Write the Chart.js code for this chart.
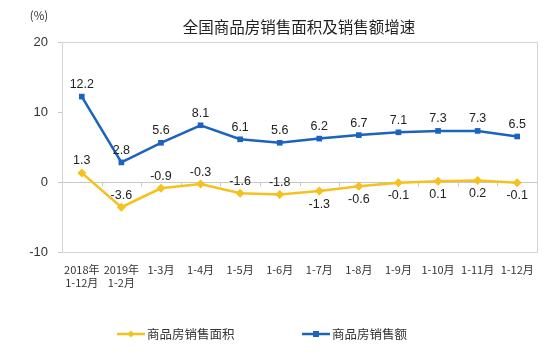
<!DOCTYPE html>
<html><head><meta charset="utf-8">
<script src="https://cdn.jsdelivr.net/npm/chart.js@4/dist/chart.umd.min.js"></script>
<style>html,body{margin:0;padding:0;background:#fff;}#wrap{width:550px;height:355px;}</style>
</head><body><div id="wrap"><canvas id="c" width="550" height="355"></canvas></div>
<script>
const categories = [['2018年','1-12月'],['2019年','1-2月'],'1-3月','1-4月','1-5月','1-6月','1-7月','1-8月','1-9月','1-10月','1-11月','1-12月'];
const areaGrowth = [1.3,-3.6,-0.9,-0.3,-1.6,-1.8,-1.3,-0.6,-0.1,0.1,0.2,-0.1];
const salesGrowth = [12.2,2.8,5.6,8.1,6.1,5.6,6.2,6.7,7.1,7.3,7.3,6.5];
const yTicks = [-10,0,10,20];
const seriesNames = ['商品房销售面积','商品房销售额'];
const titleText = '全国商品房销售面积及销售额增速';
const unitText = '(%)';

const YELLOW = '#F6C11C', BLUE = '#1C63BE';
const areaLabelAbove = [true,true,true,true,true,true,false,false,false,false,false,false];

const deco = {
  id:'deco',
  beforeDatasetsDraw(chart){
    const {ctx, chartArea:a, scales:{x,y}} = chart;
    ctx.save();
    ctx.strokeStyle = '#d4d4d4'; ctx.lineWidth = 1;
    ctx.strokeRect(Math.round(a.left)+0.5, Math.round(a.top)+0.5, Math.round(a.right-a.left), Math.round(a.bottom-a.top));
    const y0 = Math.round(y.getPixelForValue(0))+0.5;
    ctx.strokeStyle = '#c8c8c8';
    ctx.beginPath(); ctx.moveTo(a.left, y0); ctx.lineTo(a.right, y0); ctx.stroke();
    for (let i=1;i<categories.length;i++){
      const px = Math.round((x.getPixelForValue(i-1)+x.getPixelForValue(i))/2)+0.5;
      ctx.beginPath(); ctx.moveTo(px, y0); ctx.lineTo(px, y0+4); ctx.stroke();
    }
    yTicks.forEach(v=>{
      const py = Math.round(y.getPixelForValue(v))+0.5;
      ctx.beginPath(); ctx.moveTo(a.left-4, py); ctx.lineTo(a.left, py); ctx.stroke();
    });
    ctx.restore();
  },
  afterDraw(chart){
    const {ctx} = chart;
    ctx.save();
    ctx.fillStyle = '#222';
    ctx.font = '15.5px "Noto Sans CJK SC"';
    ctx.textAlign = 'center'; ctx.textBaseline = 'middle';
    ctx.fillText(titleText, 299, 27);
    ctx.font = '11.5px "Noto Sans CJK SC"';
    ctx.fillStyle = '#333';
    ctx.fillText(unitText, 39, 16);
    ctx.font = '12.5px "Liberation Sans"';
    ctx.fillStyle = '#222';
    chart.data.datasets.forEach((ds, di)=>{
      const meta = chart.getDatasetMeta(di);
      meta.data.forEach((pt, i)=>{
        const above = di===1 ? true : areaLabelAbove[i];
        const v = ds.data[i];
        ctx.fillText(v.toFixed(1), pt.x, above ? pt.y - 12 : pt.y + 13);
      });
    });
    const ly = 334;
    const items = [{x:117, ds:chart.data.datasets[0]},{x:302, ds:chart.data.datasets[1]}];
    items.forEach(it=>{
      ctx.strokeStyle = it.ds.borderColor; ctx.lineWidth = 2.5;
      ctx.beginPath(); ctx.moveTo(it.x, ly); ctx.lineTo(it.x+28, ly); ctx.stroke();
      ctx.fillStyle = it.ds.borderColor;
      const cx = it.x+14;
      if (it.ds.pointStyle === 'rectRot'){
        ctx.beginPath(); ctx.moveTo(cx, ly-3.5); ctx.lineTo(cx+3.5, ly); ctx.lineTo(cx, ly+3.5); ctx.lineTo(cx-3.5, ly); ctx.closePath(); ctx.fill();
      } else {
        ctx.fillRect(cx-3, ly-3, 6, 6);
      }
      ctx.fillStyle = '#333';
      ctx.font = '12.5px "Noto Sans CJK SC"';
      ctx.textAlign = 'left';
      ctx.fillText(it.ds.label, it.x+30, ly);
    });
    ctx.restore();
  }
};

new Chart(document.getElementById('c'), {
  type:'line',
  data:{
    labels: categories,
    datasets:[
      {label:seriesNames[0], data:areaGrowth, borderColor:YELLOW, backgroundColor:YELLOW, borderWidth:2.5, pointStyle:'rectRot', pointRadius:4.5, pointBorderWidth:0, tension:0},
      {label:seriesNames[1], data:salesGrowth, borderColor:BLUE, backgroundColor:BLUE, borderWidth:2.5, pointStyle:'rect', pointRadius:4, pointBorderWidth:0, tension:0}
    ]
  },
  options:{
    responsive:false, animation:false, devicePixelRatio:1,
    layout:{padding:{top:42, left:10, right:13, bottom:53}},
    plugins:{legend:{display:false}, title:{display:false}, tooltip:{enabled:false}},
    scales:{
      x:{offset:true, grid:{display:false, drawTicks:false}, border:{display:false},
         ticks:{font:{family:'"Noto Sans CJK SC"', size:11}, color:'#333', padding:11, maxRotation:0, autoSkip:false},
         afterFit(s){ s.height = 50; }},
      y:{min:-10, max:20, grid:{display:false, drawTicks:false}, border:{display:false},
         ticks:{stepSize:10, font:{family:'"Liberation Sans"', size:13}, color:'#333', padding:14},
         afterFit(s){ s.width = 52; }}
    }
  },
  plugins:[deco]
});
</script></body></html>
